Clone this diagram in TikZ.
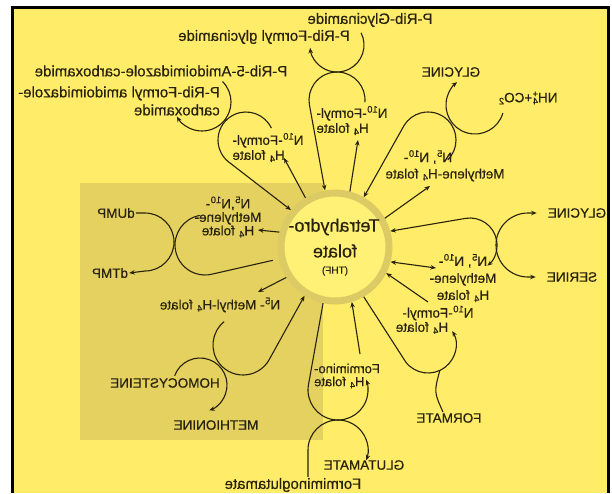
\documentclass[tikz,border=0pt]{standalone}
\usepackage{fontspec}
\setmainfont{Liberation Sans}[FakeBold=0.4]
\usetikzlibrary{arrows.meta}
\definecolor{bgyellow}{RGB}{255,236,104}
\definecolor{boxolive}{RGB}{228,209,96}
\definecolor{ringcol}{RGB}{220,203,100}
\definecolor{thffill}{RGB}{255,240,118}
\definecolor{inkcol}{RGB}{40,34,12}

\begin{document}
\begin{tikzpicture}[x=1pt,y=-1pt]

\tikzstyle{lbl}=[font=\fontsize{13.5}{15}\selectfont, text=inkcol, xscale=-1, inner sep=1pt]
\tikzstyle{lblbig}=[lbl, font=\fontsize{15}{18}\selectfont]
\tikzstyle{conn}=[draw=inkcol, line width=1.1pt]
\tikzstyle{arr}=[conn, -{Stealth[length=5.5pt,width=4.5pt]}]
\tikzstyle{dbl}=[conn, {Stealth[length=5.5pt,width=4.5pt]}-{Stealth[length=5.5pt,width=4.5pt]}]

% frame and shading
\useasboundingbox (0,0) rectangle (612,493);
\fill[white] (0,0) rectangle (612,493);
\fill[bgyellow] (12.5,7.5) rectangle (608.5,493);
\draw[black, line width=3pt] (12.5,493) -- (12.5,7.5) -- (608.5,7.5) -- (608.5,493);
\fill[boxolive] (80,183) rectangle (323,440);

% THF
\node[circle, draw=ringcol, line width=7pt, fill=thffill, minimum size=108pt, inner sep=0pt] (thf) at (335,247) {};
\node[lbl, font=\fontsize{18}{20}\selectfont] (thfA) at (334,227) {Tetrahydro-};
\node[lbl, font=\fontsize{18}{20}\selectfont] (thfB) at (335,251) {folate};
\node[lbl, font=\fontsize{10}{12}\selectfont] (thfC) at (335,271) {(THF)};

% labels
\node[lblbig] (ribGly) at (370,20) {P-Rib-Glycinamide};
\node[lblbig] (ribFGly) at (264,37) {P-Rib-Formyl glycinamide};
\node[lblbig] (ribAm) at (161,71) {P-Rib-5-Amidoimidazole-carboxamide};
\node[lblbig, align=left] (ribFAm) at (119,101) {P-Rib-Formyl amidoimidazole-\\carboxamide};
\node[lbl, align=right] (fmTop) at (352,120.5) {N\textsuperscript{10}-Formyl-\\H\textsubscript{4} folate};
\node[lbl, align=right] (fmLeft) at (268,147.5) {N\textsuperscript{10}-Formyl-\\H\textsubscript{4} folate};
\node[lbl] (glyTop) at (451,72) {GLYCINE};
\node[lbl] (nhco) at (528,98) {NH\rlap{\textsuperscript{+}}\textsubscript{4}+CO\textsubscript{2}};
\node[lbl] (metTRa) at (428,157) {N\textsuperscript{5}, N\textsuperscript{10}-};
\node[lbl] (metTRb) at (445,175) {Methylene-H\textsubscript{4} folate};
\node[lbl, align=center, font=\fontsize{13.5}{13.5}\selectfont] (metL) at (228,217) {N\textsuperscript{5},N\textsuperscript{10}-\\Methylene-\\H\textsubscript{4} folate};
\node[lbl] (dump) at (116,213) {dUMP};
\node[lbl] (dtmp) at (110,273) {dTMP};
\node[lbl] (n5m) at (220,305) {N\textsuperscript{5}- Methyl-H\textsubscript{4} folate};
\node[lbl] (hcys) at (165,383) {HOMOCYSTEINE};
\node[lbl] (met) at (216,425) {METHIONINE};
\node[lbl, align=right, font=\fontsize{13}{13}\selectfont] (fimLbl) at (347,376) {Formimino-\\H\textsubscript{4} folate};
\node[lbl] (formate) at (449,418) {FORMATE};
\node[lbl] (glu) at (364,465) {GLUTAMATE};
\node[lblbig] (fmglu) at (293,485) {Formiminoglutamate};
\node[lbl] (glyR) at (577,213) {GLYCINE};
\node[lbl] (ser) at (572,277) {SERINE};
\node[lbl, align=center, font=\fontsize{13.5}{17}\selectfont] (metR) at (463,278) {N\textsuperscript{5}, N\textsuperscript{10}-\\Methylene-\\H\textsubscript{4} folate};
\node[lbl] (fmRa) at (438,313) {N\textsuperscript{10}-Formyl-};
\node[lbl] (fmRb) at (422,328) {H\textsubscript{4} folate};

% loop centres and free ends
\coordinate (cA1) at (337,45);
\coordinate (cA2) at (337,100);
\coordinate (cB1) at (202,102);
\coordinate (cB2) at (246,140);
\coordinate (cC1) at (475,105);
\coordinate (cC2) at (428,140);
\coordinate (cD1) at (470,245);
\coordinate (cD2) at (528,245);
\coordinate (cE1) at (428,345);
\coordinate (cF1) at (338,390);
\coordinate (cF2) at (338,450);
\coordinate (cG1) at (243,345);
\coordinate (cG2) at (200,385);
\coordinate (cH1) at (205,245);
\coordinate (cH2) at (145,242);
\coordinate (tipA) at (358,140);
\coordinate (tipB) at (284,158);
\coordinate (tipC) at (430,186);
\coordinate (tipD) at (436,268);
\coordinate (tipE) at (428,302);
\coordinate (tipF) at (360,354);
\coordinate (tipG) at (258,292);
\coordinate (tipH) at (258,230);

% glycinamide
\draw[arr] ([shift={(-27:27)}]cA1) arc[start angle=-27, end angle=174, radius=27];
\draw[arr] ([shift={(5:28)}]cA2) arc[start angle=5, end angle=-190, radius=28] -- (thf.100);
\draw[arr] (thf.75) -- (tipA);

% amidoimidazole
\draw[arr] ([shift={(-45:29)}]cB1) arc[start angle=-45, end angle=150, radius=29];
\draw[arr] ([shift={(-25:28)}]cB2) arc[start angle=-25, end angle=-230, radius=28] -- (thf.140);
\draw[arr] (thf.121) -- (tipB);

% glycine cleavage
\draw[arr] ([shift={(16:29)}]cC1) arc[start angle=16, end angle=232, radius=29];
\draw[arr] ([shift={(45:28)}]cC2) arc[start angle=45, end angle=-148, radius=28] -- (thf.60);
\draw[arr] (thf.30) -- (tipC);

% serine
\draw[dbl] (thf.16) -- ([shift={(-100:27)}]cD1) arc[start angle=-100, end angle=50, radius=27];
\draw[dbl] ([xshift=-10pt]glyR.east) -- ([shift={(-90:32)}]cD2) arc[start angle=-90, end angle=-270, radius=32] -- ([xshift=-10pt]ser.east);
\draw[dbl] (thf.-15) -- (tipD);
\draw[arr] (tipE) -- (thf.-27);

% formate
\draw[arr] (thf.-60) -- ([shift={(143:28)}]cE1) arc[start angle=143, end angle=-30, radius=28];
\draw[conn] ([shift={(65:28)}]cE1) .. controls (434,392) .. ([xshift=-6pt]formate.north);

% formimino
\draw[arr] (thf.-102) -- ([shift={(190:30)}]cF1) arc[start angle=190, end angle=-20, radius=30];
\draw[arr] (tipF) -- (thf.-73);
\draw[arr] ([xshift=15pt]fmglu.north) -- ([shift={(180:30)}]cF2) arc[start angle=180, end angle=380, radius=30];

% methionine
\draw[arr] ([shift={(231:30)}]cG1) arc[start angle=231, end angle=30, radius=30] -- (thf.-122);
\draw[arr] ([shift={(200:27)}]cG2) arc[start angle=200, end angle=430, radius=27];
\draw[arr] (thf.-148) -- (tipG);

% thymidylate
\draw[arr] (thf.165) -- (tipH);
\draw[conn, shorten >=6pt] ([shift={(-100:30)}]cH1) arc[start angle=-100, end angle=-285, radius=30] -- (thf.-168);
\draw[arr] (dump.west) -- ([shift={(-90:29)}]cH2) arc[start angle=-90, end angle=90, radius=29] -- (dtmp.west);
\end{tikzpicture}
\end{document}
